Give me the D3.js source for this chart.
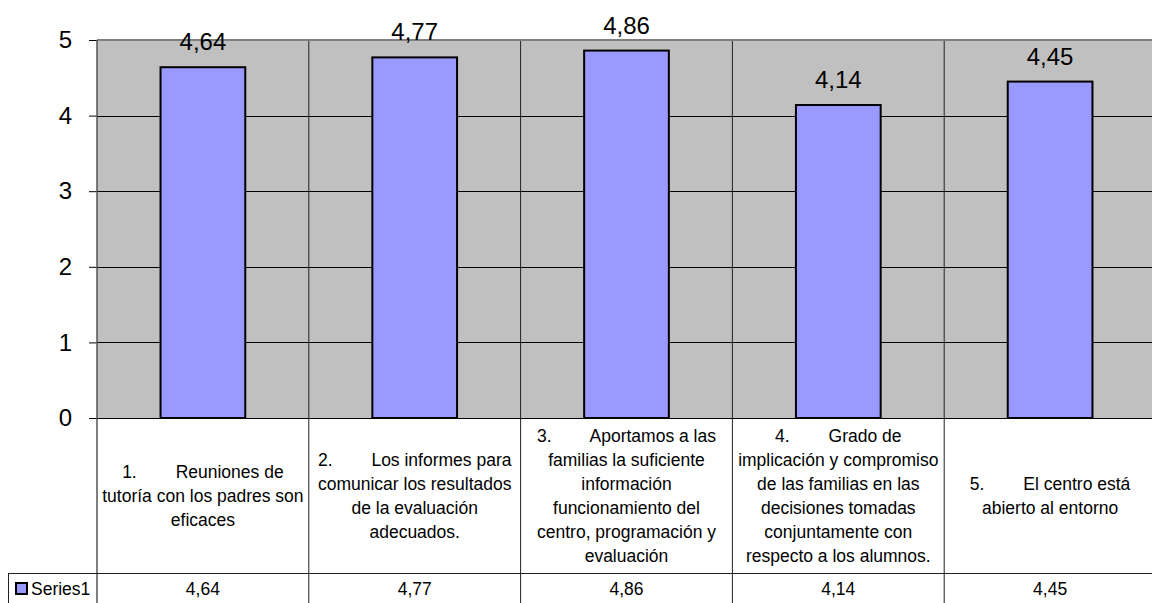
<!DOCTYPE html>
<html>
<head>
<meta charset="utf-8">
<script src="https://cdn.jsdelivr.net/npm/d3@7"></script>
<style>
  body { margin: 0; background: #fff; }
  svg { display: block; font-family: "Liberation Sans", Arial, sans-serif; }
</style>
</head>
<body>
<svg width="1152" height="603"></svg>
<script>
var categories = ["c1", "c2", "c3", "c4", "c5"];
var categoryLines = [
    ["1.        Reuniones de", "tutoría con los padres son", "eficaces"],
    ["2.        Los informes para", "comunicar los resultados", "de la evaluación", "adecuados."],
    ["3.        Aportamos a las", "familias la suficiente", "información", "funcionamiento del", "centro, programación y", "evaluación"],
    ["4.        Grado de", "implicación y compromiso", "de las familias en las", "decisiones tomadas", "conjuntamente con", "respecto a los alumnos."],
    ["5.        El centro está", "abierto al entorno"]
];
var values = [4.64, 4.77, 4.86, 4.14, 4.45];
var seriesName = "Series1";
var yTicks = [0, 1, 2, 3, 4, 5];

var svg = d3.select("svg"),
    width = +svg.attr("width"),
    height = +svg.attr("height");

var plot = {left: 97, right: 1156, top: 40, bottom: 418},
    rowTop = 573,
    legendLeft = 8;

var comma = function(v) { return d3.format(".2f")(v).replace(".", ","); };

var x = d3.scaleBand()
    .domain(categories)
    .range([plot.left, plot.right]);

var y = d3.scaleLinear()
    .domain([0, 5])
    .range([plot.bottom, plot.top]);

// plot background
svg.append("rect")
    .attr("x", plot.left)
    .attr("y", plot.top)
    .attr("width", plot.right - plot.left)
    .attr("height", plot.bottom - plot.top)
    .attr("fill", "#c0c0c0");

// vertical dividers inside the plot
svg.append("g").selectAll("line")
    .data(categories.slice(1))
    .enter().append("line")
    .attr("x1", function(d) { return x(d); })
    .attr("x2", function(d) { return x(d); })
    .attr("y1", plot.top)
    .attr("y2", plot.bottom)
    .attr("stroke", "#222")
    .attr("stroke-width", 1);

// horizontal gridlines
svg.append("g").selectAll("line")
    .data(yTicks.filter(function(t) { return t < 5; }))
    .enter().append("line")
    .attr("x1", plot.left)
    .attr("x2", width)
    .attr("y1", function(d) { return Math.round(y(d)) + 0.5; })
    .attr("y2", function(d) { return Math.round(y(d)) + 0.5; })
    .attr("stroke", "#000")
    .attr("stroke-width", 1);

// top border
svg.append("line")
    .attr("x1", plot.left)
    .attr("x2", width)
    .attr("y1", y(5))
    .attr("y2", y(5))
    .attr("stroke", "#808080")
    .attr("stroke-width", 2);

// bars
var bw = x.bandwidth() * 0.4;
svg.append("g").selectAll("rect")
    .data(values)
    .enter().append("rect")
    .attr("x", function(d, i) { return x(categories[i]) + (x.bandwidth() - bw) / 2; })
    .attr("y", function(d) { return y(d); })
    .attr("width", bw)
    .attr("height", function(d) { return y(0) - y(d); })
    .attr("fill", "#9999ff")
    .attr("stroke", "#000")
    .attr("stroke-width", 2);

// data labels
svg.append("g").selectAll("text")
    .data(values)
    .enter().append("text")
    .attr("x", function(d, i) { return x(categories[i]) + x.bandwidth() / 2; })
    .attr("y", function(d) { return y(d) - 17; })
    .attr("text-anchor", "middle")
    .attr("font-size", "24px")
    .attr("fill", "#000")
    .text(function(d) { return comma(d); });

// y axis
var yAxis = svg.append("g")
    .attr("transform", "translate(" + plot.left + ",0)")
    .call(d3.axisLeft(y).tickValues(yTicks).tickFormat(d3.format("d")).tickSize(8).tickPadding(17));
yAxis.select(".domain").remove();
yAxis.selectAll(".tick line").attr("stroke", "#000");
yAxis.selectAll(".tick text")
    .attr("font-size", "24px")
    .attr("font-family", "Liberation Sans, Arial, sans-serif")
    .attr("fill", "#000");

// left edge of plot + table
svg.append("line")
    .attr("x1", plot.left).attr("x2", plot.left)
    .attr("y1", plot.top).attr("y2", height)
    .attr("stroke", "#555").attr("stroke-width", 1.5);

// table column dividers
svg.append("g").selectAll("line")
    .data(categories.slice(1))
    .enter().append("line")
    .attr("x1", function(d) { return x(d); })
    .attr("x2", function(d) { return x(d); })
    .attr("y1", plot.bottom)
    .attr("y2", height)
    .attr("stroke", "#222")
    .attr("stroke-width", 1);

// table row line
svg.append("line")
    .attr("x1", legendLeft).attr("x2", width)
    .attr("y1", rowTop + 0.5).attr("y2", rowTop + 0.5)
    .attr("stroke", "#222");
svg.append("line")
    .attr("x1", legendLeft + 0.5).attr("x2", legendLeft + 0.5)
    .attr("y1", rowTop).attr("y2", height)
    .attr("stroke", "#222");

// category labels
var lineH = 24;
var rowMid = (plot.bottom + rowTop) / 2;
svg.append("g").selectAll("text")
    .data(categoryLines)
    .enter().append("text")
    .attr("text-anchor", "middle")
    .attr("font-size", "17.5px")
    .attr("fill", "#000")
    .style("white-space", "pre")
    .each(function(lines, i) {
        var t = d3.select(this);
        var y0 = rowMid - (lines.length - 1) * lineH / 2;
        lines.forEach(function(l, j) {
            t.append("tspan")
                .attr("x", x(categories[i]) + x.bandwidth() / 2)
                .attr("y", y0 + j * lineH)
                .attr("dy", "0.35em")
                .text(l);
        });
    });

// data row values
var rowMidV = (rowTop + height) / 2 + 1;
svg.append("g").selectAll("text")
    .data(values)
    .enter().append("text")
    .attr("x", function(d, i) { return x(categories[i]) + x.bandwidth() / 2; })
    .attr("y", rowMidV)
    .attr("dy", "0.35em")
    .attr("text-anchor", "middle")
    .attr("font-size", "17.5px")
    .attr("fill", "#000")
    .text(function(d) { return comma(d); });

// legend key
svg.append("rect")
    .attr("x", 16).attr("y", rowMidV - 6)
    .attr("width", 11).attr("height", 11)
    .attr("fill", "#9999ff")
    .attr("stroke", "#000")
    .attr("stroke-width", 2);
svg.append("text")
    .attr("x", 31).attr("y", rowMidV)
    .attr("dy", "0.35em")
    .attr("font-size", "17.5px")
    .attr("fill", "#000")
    .text(seriesName);
</script>
</body>
</html>
